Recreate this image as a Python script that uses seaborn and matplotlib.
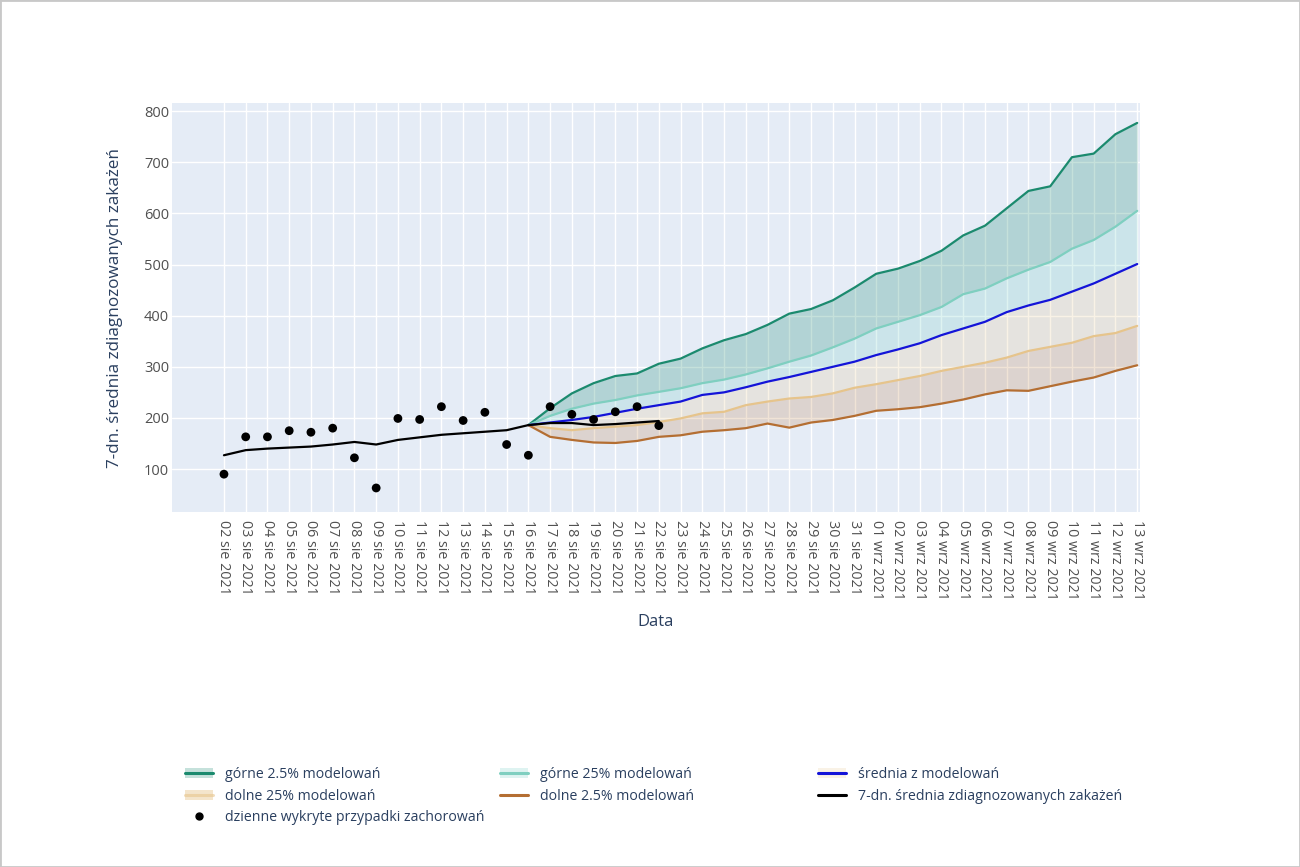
import numpy as np
import pandas as pd
import matplotlib
matplotlib.use("Agg")
import matplotlib.pyplot as plt
import matplotlib.dates as mdates
from matplotlib.patches import Patch, Rectangle
from matplotlib.lines import Line2D
import seaborn as sns

# ---------------- data ----------------
obs_start = "2021-08-02"
obs_end = "2021-08-22"
model_start = "2021-08-16"
model_end = "2021-09-13"
month_abbr = {8: "sie", 9: "wrz"}

daily_cases = [90, 163, 163, 175, 172, 180, 122, 63, 199, 197, 222, 195, 211,
               148, 127, 222, 207, 197, 212, 222, 185]
avg7_cases = [127, 137, 140, 142, 144, 148, 153, 148, 157, 162, 167, 170, 173,
              176, 186, 190, 190, 186, 188, 191, 194]

upper_975 = [186, 219, 248, 268, 282, 287, 306, 316, 336, 352, 364, 382, 404, 413,
             430, 455, 482, 492, 507, 527, 557, 576, 610, 644, 653, 710, 717, 755, 777]
upper_75 = [186, 204, 218, 228, 235, 244, 251, 258, 268, 275, 285, 297, 310, 322,
            338, 355, 375, 388, 401, 417, 442, 453, 473, 490, 505, 531, 548, 574, 605]
mean_model = [186, 191, 196, 202, 210, 218, 225, 232, 245, 250, 260, 271, 280, 290,
              300, 310, 323, 334, 346, 362, 375, 388, 407, 420, 431, 447, 463, 482, 501]
lower_25 = [186, 180, 176, 180, 183, 186, 192, 199, 209, 212, 225, 232, 238, 241,
            248, 259, 266, 274, 282, 292, 300, 308, 318, 331, 339, 347, 360, 366, 380]
lower_025 = [186, 163, 157, 152, 151, 155, 163, 166, 173, 176, 180, 189, 181, 191,
             196, 204, 214, 217, 221, 228, 236, 246, 254, 253, 262, 271, 279, 292, 303]

labels = {
    "u975": "górne 2.5% modelowań",
    "u75": "górne 25% modelowań",
    "mean": "średnia z modelowań",
    "l25": "dolne 25% modelowań",
    "l025": "dolne 2.5% modelowań",
    "avg": "7-dn. średnia zdiagnozowanych zakażeń",
    "daily": "dzienne wykryte przypadki zachorowań",
}
y_label = "7-dn. średnia zdiagnozowanych zakażeń"
x_label = "Data"
y_ticks = [100, 200, 300, 400, 500, 600, 700, 800]

obs_dates = pd.date_range(obs_start, obs_end)
model_dates = pd.date_range(model_start, model_end)
all_dates = pd.date_range(obs_start, model_end)

obs_df = pd.DataFrame({"date": obs_dates, "daily": daily_cases, "avg": avg7_cases})
mod_df = pd.DataFrame({"date": model_dates, "u975": upper_975, "u75": upper_75,
                       "mean": mean_model, "l25": lower_25, "l025": lower_025})

# ---------------- style ----------------
BG = "#E5ECF6"
TXT = "#2a3f5f"
TICK = "#505050"
sns.set_theme(style="darkgrid", rc={"axes.facecolor": BG, "grid.color": "white",
                                     "grid.linewidth": 1.0, "figure.facecolor": "white"})
plt.rcParams["font.family"] = ["Open Sans", "DejaVu Sans"]

c_u975 = "#1b8a6e"
c_u75 = "#7fcfc0"
c_mean = "#1414d8"
c_l25 = "#e6c48c"
c_l025 = "#b46e32"

f_u975 = (27/255, 138/255, 115/255, 0.25)
f_u75 = (127/255, 208/255, 200/255, 0.25)
f_l25 = (232/255, 198/255, 142/255, 0.22)
f_l025 = (184/255, 115/255, 51/255, 0.20)

fig = plt.figure(figsize=(13, 8.67), dpi=100)
ax = fig.add_axes([172/1300, 1 - 512/867, 968/1300, 409/867])

# fills
ax.fill_between(mod_df["date"], mod_df["u75"], mod_df["u975"], color=f_u975, lw=0, zorder=2)
ax.fill_between(mod_df["date"], mod_df["mean"], mod_df["u75"], color=f_u75, lw=0, zorder=2)
ax.fill_between(mod_df["date"], mod_df["l25"], mod_df["mean"], color=f_l25, lw=0, zorder=2)
ax.fill_between(mod_df["date"], mod_df["l025"], mod_df["l25"], color=f_l025, lw=0, zorder=2)

lw = 1.6
sns.lineplot(data=mod_df, x="date", y="u975", color=c_u975, lw=lw, ax=ax, zorder=3)
sns.lineplot(data=mod_df, x="date", y="u75", color=c_u75, lw=lw, ax=ax, zorder=3)
sns.lineplot(data=mod_df, x="date", y="l25", color=c_l25, lw=lw, ax=ax, zorder=3)
sns.lineplot(data=mod_df, x="date", y="l025", color=c_l025, lw=lw, ax=ax, zorder=3)
sns.lineplot(data=mod_df, x="date", y="mean", color=c_mean, lw=lw, ax=ax, zorder=4)
sns.lineplot(data=obs_df, x="date", y="avg", color="black", lw=lw, ax=ax, zorder=5)
sns.scatterplot(data=obs_df, x="date", y="daily", color="black", s=40, edgecolor="none",
                ax=ax, zorder=6)

# axes
x0 = mdates.date2num(all_dates[0])
ax.set_xlim(x0 - 2.39, x0 + 42.13)
ax.set_ylim(16, 816)
ax.set_xticks(all_dates)
ax.set_xticklabels([f"{d.day:02d} {month_abbr[d.month]} {d.year}" for d in all_dates],
                   rotation=-90, ha="center", va="top", fontsize=10.3, color=TICK)
ax.set_yticks(y_ticks)
ax.set_yticklabels([str(v) for v in y_ticks], fontsize=10.5, color=TICK)
ax.tick_params(axis="x", length=0, pad=6)
ax.tick_params(axis="y", length=0, pad=2)
for s in ax.spines.values():
    s.set_visible(False)
ax.grid(True, color="white", lw=1.0)
ax.set_axisbelow(True)

ax.set_xlabel(x_label, fontsize=12, color=TXT)
ax.set_ylabel(y_label, fontsize=12.3, color=TXT)
ax.xaxis.set_label_coords(0.5, (512 - 614) / 409)
ax.yaxis.set_label_coords((123 - 172) / 968, 0.5)

# legend (three columns, placed like the reference)
def fill_handle(fc, lc):
    return (Patch(facecolor=fc, edgecolor="none"), Line2D([], [], color=lc, lw=2.2))

h_u975 = fill_handle(f_u975, c_u975)
h_u75 = fill_handle(f_u75, c_u75)
h_mean = fill_handle(f_l25, c_mean)
h_l25 = (Patch(facecolor=(232/255, 198/255, 142/255, 0.45), edgecolor="none"),
         Line2D([], [], color=(232/255, 198/255, 142/255, 0.6), lw=2.2))
h_l025 = Line2D([], [], color=c_l025, lw=2.2)
h_avg = Line2D([], [], color="black", lw=2.2)
h_daily = Line2D([], [], color="black", marker="o", ls="none", markersize=5)

leg_kw = dict(frameon=False, fontsize=10.2, handlelength=2.0, handletextpad=0.85,
              labelspacing=0.47, borderpad=0, borderaxespad=0, loc="upper left",
              labelcolor=TXT)
cols = [
    (185, [h_u975, h_l25, h_daily], [labels["u975"], labels["l25"], labels["daily"]]),
    (500, [h_u75, h_l025], [labels["u75"], labels["l025"]]),
    (818, [h_mean, h_avg], [labels["mean"], labels["avg"]]),
]
for xpx, hs, ls in cols:
    fig.legend(hs, ls, bbox_to_anchor=(xpx / 1300, 1 - 767 / 867), **leg_kw)

fig.patches.append(Rectangle((0, 0), 1, 1, transform=fig.transFigure, fill=False,
                             edgecolor="#c8c8c8", lw=2))

fig.savefig("out.png", dpi=100)
